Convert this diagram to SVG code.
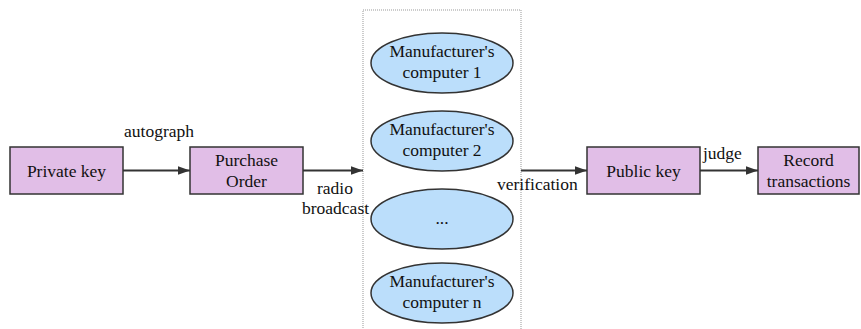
<svg xmlns="http://www.w3.org/2000/svg" width="861" height="329" viewBox="0 0 861 329">
  <style>
    .box { fill: #e1bee7; stroke: #333333; stroke-width: 1.5; }
    .pc { fill: #bbdefb; stroke: #333333; stroke-width: 1.5; }
    .lbl { font-family: 'Liberation Serif', 'DejaVu Serif', serif; font-size: 17.5px; fill: #111111; }
    .mid { text-anchor: middle; }
    .edge { stroke: #333333; stroke-width: 1.8; fill: none; marker-end: url(#arrow); }
    .group { fill: none; stroke: #999999; stroke-width: 1; stroke-dasharray: 1 1; }
  </style>
  <defs>
    <marker id="arrow" viewBox="0 0 12 10" refX="12" refY="5" markerWidth="12" markerHeight="10" markerUnits="userSpaceOnUse" orient="auto">
      <path d="M0,0.8 L12,5 L0,9.2 Z" fill="#333333"/>
    </marker>
  </defs>

  <!-- dotted cluster holding the manufacturers' computers -->
  <rect id="network" class="group" x="363" y="10" width="158" height="330"/>

  <g id="connectors">
    <line class="edge" x1="123" y1="170.5" x2="190" y2="170.5"/>
    <line class="edge" x1="303" y1="170.5" x2="363" y2="170.5"/>
    <line class="edge" x1="521" y1="170.5" x2="587" y2="170.5"/>
    <line class="edge" x1="700" y1="170.5" x2="758" y2="170.5"/>
    <text class="lbl" x="124" y="137">autograph</text>
    <text class="lbl" x="317" y="194">radio</text>
    <text class="lbl" x="302" y="213.5">broadcast</text>
    <text class="lbl" x="497" y="190">verification</text>
    <text class="lbl" x="703" y="159">judge</text>
  </g>

  <g id="private-key">
    <rect class="box" x="10" y="147" width="113" height="47"/>
    <text class="lbl mid" x="66.5" y="176.5">Private key</text>
  </g>

  <g id="purchase-order">
    <rect class="box" x="190" y="147" width="113" height="47"/>
    <text class="lbl mid" x="246.5" y="166">Purchase</text>
    <text class="lbl mid" x="246.5" y="187">Order</text>
  </g>

  <g id="computer-1">
    <ellipse class="pc" cx="442" cy="63" rx="71" ry="30"/>
    <text class="lbl mid" x="442" y="57">Manufacturer's</text>
    <text class="lbl mid" x="442" y="78">computer 1</text>
  </g>

  <g id="computer-2">
    <ellipse class="pc" cx="442" cy="141" rx="71" ry="30"/>
    <text class="lbl mid" x="442" y="135">Manufacturer's</text>
    <text class="lbl mid" x="442" y="156">computer 2</text>
  </g>

  <g id="computer-etc">
    <ellipse class="pc" cx="442" cy="219" rx="71" ry="30"/>
    <text class="lbl mid" x="442" y="224">...</text>
  </g>

  <g id="computer-n">
    <ellipse class="pc" cx="442" cy="293" rx="71" ry="30"/>
    <text class="lbl mid" x="442" y="287">Manufacturer's</text>
    <text class="lbl mid" x="442" y="308">computer n</text>
  </g>

  <g id="public-key">
    <rect class="box" x="587" y="147" width="113" height="47"/>
    <text class="lbl mid" x="643.5" y="176.5">Public key</text>
  </g>

  <g id="record-transactions">
    <rect class="box" x="758" y="147" width="101" height="47"/>
    <text class="lbl mid" x="808.5" y="166">Record</text>
    <text class="lbl mid" x="808.5" y="187">transactions</text>
  </g>
</svg>
